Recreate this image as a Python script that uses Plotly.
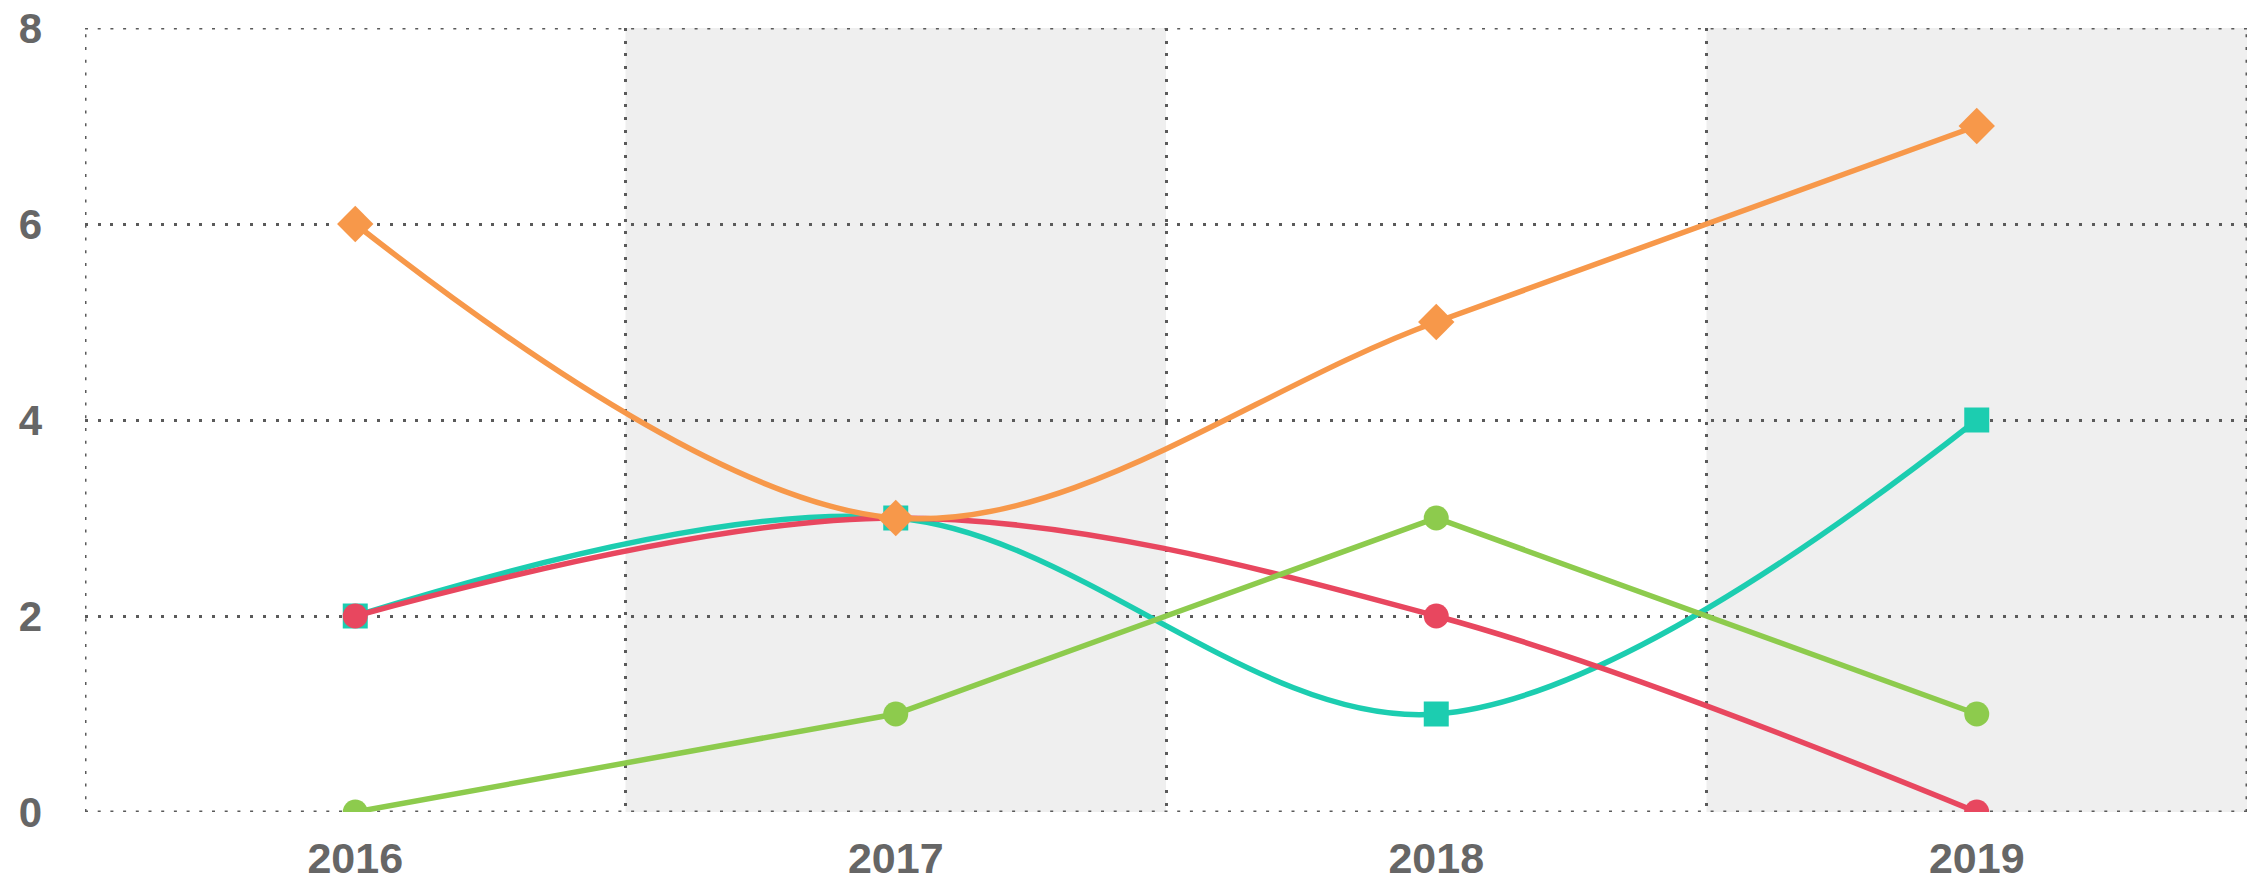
import plotly.graph_objects as go

years = ["2016", "2017", "2018", "2019"]
teal_vals = [2, 3, 1, 4]
red_vals = [2, 3, 2, 0]
green_vals = [0, 1, 3, 1]
orange_vals = [6, 3, 5, 7]
y_ticks = [0, 2, 4, 6, 8]

TEAL = "#1ccdb0"
RED = "#e8475f"
GREEN = "#8dcb4d"
ORANGE = "#f7984a"
GRID = "#5a5a5a"
DASH = "3px,9.7px"
LW = 5.5

fig = go.Figure()
fig.add_trace(go.Scatter(x=years, y=teal_vals, mode="lines+markers",
                         line=dict(color=TEAL, width=LW, shape="spline"),
                         marker=dict(symbol="square", size=25, color=TEAL)))
fig.add_trace(go.Scatter(x=years, y=red_vals, mode="lines+markers",
                         line=dict(color=RED, width=LW, shape="spline"),
                         marker=dict(symbol="circle", size=25, color=RED)))
fig.add_trace(go.Scatter(x=years, y=green_vals, mode="lines+markers",
                         line=dict(color=GREEN, width=LW),
                         marker=dict(symbol="circle", size=25, color=GREEN)))
fig.add_trace(go.Scatter(x=years, y=orange_vals, mode="lines+markers",
                         line=dict(color=ORANGE, width=LW, shape="spline"),
                         marker=dict(symbol="diamond", size=28, color=ORANGE)))

# alternating band shading
for i in (1, 3):
    fig.add_shape(type="rect", xref="x", yref="paper", x0=i - 0.5, x1=i + 0.5,
                  y0=0, y1=1, fillcolor="#efefef", line_width=0, layer="below")

# outer dotted frame (edge gridlines)
n = len(years)
for xv in (-0.5, n - 0.5):
    fig.add_shape(type="line", xref="x", yref="y", x0=xv, x1=xv,
                  y0=y_ticks[0], y1=y_ticks[-1], layer="below",
                  line=dict(color=GRID, width=3, dash=DASH))
for yv in (y_ticks[0], y_ticks[-1]):
    fig.add_shape(type="line", xref="x", yref="y", x0=-0.5, x1=n - 0.5,
                  y0=yv, y1=yv, layer="below",
                  line=dict(color=GRID, width=3, dash=DASH))

fig.update_layout(
    width=2249, height=881,
    margin=dict(l=85, r=2, t=28, b=69, autoexpand=False),
    paper_bgcolor="white", plot_bgcolor="white",
    showlegend=False,
    font=dict(family="Liberation Sans, Arial, sans-serif", color="#666666"),
)
fig.update_xaxes(type="category", range=[-0.5, n - 0.5], tickson="boundaries",
                 showgrid=True, gridcolor=GRID, gridwidth=3, griddash=DASH,
                 zeroline=False, showline=False, ticks="", automargin=False,
                 ticklabeloverflow="allow",
                 tickfont=dict(size=43, family="Liberation Sans", weight="bold", color="#666666"),
                 ticklabelstandoff=17)
fig.update_yaxes(range=[y_ticks[0], y_ticks[-1]], tickvals=y_ticks,
                 showgrid=True, gridcolor=GRID, gridwidth=3, griddash=DASH,
                 zeroline=False, showline=False, ticks="", automargin=False,
                 ticklabeloverflow="allow",
                 tickfont=dict(size=42, family="Liberation Sans", weight="bold", color="#666666"),
                 ticklabelstandoff=42)

# remove the browser's default 8px body margin so the figure fills the window exactly
fig.write_html("out.html",
               config={"displayModeBar": False},
               post_script="document.body.style.margin='0';document.body.style.overflow='hidden';")
